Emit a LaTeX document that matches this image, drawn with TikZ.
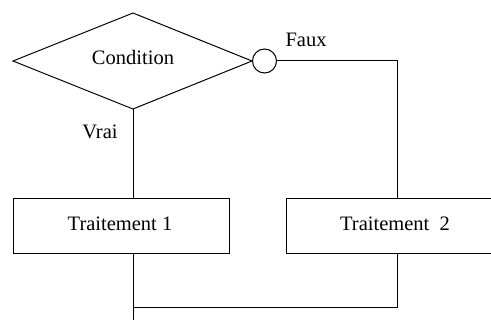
\documentclass[tikz,border=0pt]{standalone}
\usepackage{fontspec}
\setmainfont{Liberation Serif}
\usetikzlibrary{shapes.geometric}
\begin{document}
\begin{tikzpicture}[x=1pt,y=-1pt,line width=1pt,
  lbl/.style={font=\fontsize{20.5}{24}\selectfont,inner sep=0pt},
  boxs/.style={draw,minimum height=55pt,inner sep=0pt,anchor=north west}]
\useasboundingbox (0,0) rectangle (491,321);
\begin{scope}
\clip (0,0) rectangle (491,321);
\coordinate (dl) at (13,61);
\coordinate (dt) at (133,13);
\coordinate (dr) at (252,61);
\coordinate (db) at (133,109);
\draw (dl) -- (dt) -- (dr) -- (db) -- cycle;
\node[lbl] (cond) at (133,57) {Condition};
\node[draw,circle,minimum size=24pt,inner sep=0pt] (c) at (264.5,61) {};
\node[boxs,minimum width=216pt] (t1) at (13,198) {};
\node[lbl] (t1l) at (120,224) {Traitement 1};
\node[boxs,minimum width=230pt] (t2) at (286,198) {};
\node[lbl] (t2l) at (395,224) {Traitement\ \ 2};
\node[lbl] (vrai) at (100,132) {Vrai};
\node[lbl] (faux) at (306,40) {Faux};
\coordinate (fr) at (397,61);
\coordinate (j2) at (397,307.5);
\coordinate (j1) at (133,307.5);
\coordinate (out) at (133,320);
\draw (db) -- (db |- t1.north);
\draw (c.east) -- (fr) -- (fr |- t2.north);
\draw (t1.south -| db) -- (out);
\draw (t2.south -| fr) -- (j2) -- (j1);
\end{scope}
\end{tikzpicture}
\end{document}
